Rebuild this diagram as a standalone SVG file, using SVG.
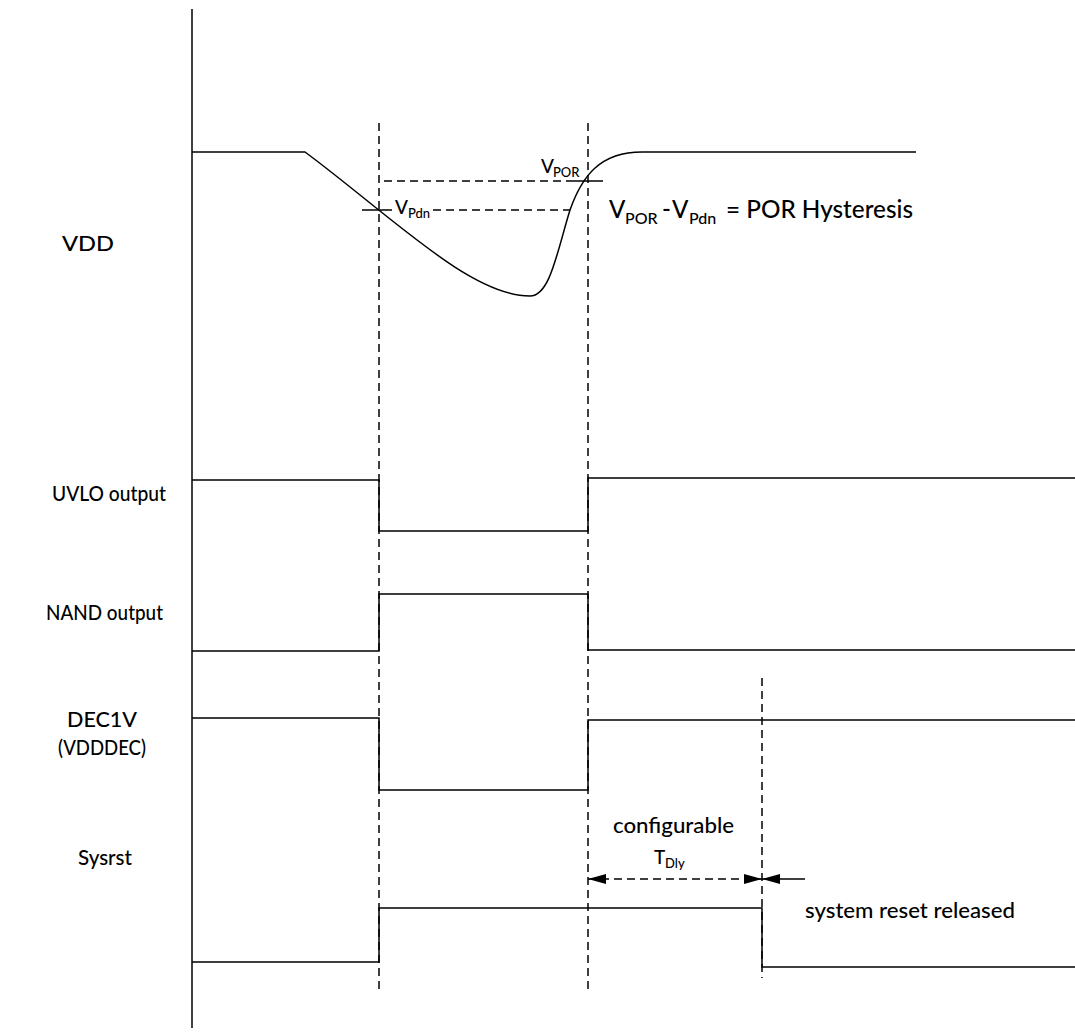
<svg xmlns="http://www.w3.org/2000/svg" width="1075" height="1032" viewBox="0 0 1075 1032">
<style>
.ln{fill:none;stroke:#000;stroke-width:1.5}
.ds{fill:none;stroke:#000;stroke-width:1.5;stroke-dasharray:8 5}
.t{font-family:Lato,"Open Sans","Liberation Sans",sans-serif;fill:#000;font-size:21px;font-weight:500}
.l{font-size:22px}
.s{font-size:13px}
</style>
<defs>
<marker id="ah" markerUnits="userSpaceOnUse" markerWidth="18" markerHeight="10" refX="18" refY="5" orient="auto-start-reverse" viewBox="0 0 18 10">
<path d="M0,0 L18,5 L0,10 z" fill="#000"/>
</marker>
</defs>
<rect width="1075" height="1032" fill="#fff"/>
<g id="labels">
<text class="t l" x="62" y="251" textLength="52" lengthAdjust="spacingAndGlyphs">VDD</text>
<text class="t l" x="52" y="501" textLength="114" lengthAdjust="spacingAndGlyphs">UVLO output</text>
<text class="t l" x="46" y="620" textLength="117" lengthAdjust="spacingAndGlyphs">NAND output</text>
<text class="t l" x="67" y="727" textLength="70" lengthAdjust="spacingAndGlyphs">DEC1V</text>
<text class="t l" x="58" y="755" textLength="88" lengthAdjust="spacingAndGlyphs">(VDDDEC)</text>
<text class="t l" x="78" y="865" textLength="54" lengthAdjust="spacingAndGlyphs">Sysrst</text>
</g>
<g id="axis">
<line class="ln" x1="192" y1="9" x2="192" y2="1028"/>
</g>
<g id="markers-vertical">
<line class="ds" x1="379" y1="123" x2="379" y2="990"/>
<line class="ds" x1="588" y1="123" x2="588" y2="990"/>
<line class="ds" x1="762" y1="678" x2="762" y2="978"/>
</g>
<g id="vdd">
<path class="ln" d="M192,152 H305 C390,215 470,296 530,296 C550,296 557,252 570,210 C582,176 600,152 642,152 H916"/>
<line class="ds" x1="384" y1="181" x2="568" y2="181"/>
<line class="ln" x1="568" y1="181" x2="603" y2="181"/>
<line class="ln" x1="362" y1="210" x2="392" y2="210"/>
<line class="ds" x1="433" y1="210" x2="570" y2="210"/>
<text class="t" x="541" y="173" style="font-size:19px">V<tspan class="s" x="553" y="177">POR</tspan></text>
<text class="t" x="395" y="214" style="font-size:19px">V<tspan class="s" x="408" y="218">Pdn</tspan></text>
<text class="t" x="609" y="218" style="font-size:24px">V<tspan x="625" y="224" style="font-size:16px">POR</tspan><tspan x="662" y="218">-</tspan><tspan x="672" y="218">V</tspan><tspan x="689" y="224" style="font-size:16px">Pdn</tspan><tspan x="726" y="218" textLength="187" lengthAdjust="spacingAndGlyphs">= POR Hysteresis</tspan></text>
</g>
<g id="uvlo">
<path class="ln" d="M192,480 H379 V531 H588 V478 H1075"/>
</g>
<g id="nand">
<path class="ln" d="M192,651 H379 V594 H588 V650 H1075"/>
</g>
<g id="dec1v">
<path class="ln" d="M192,718 H379 V790 H588 V720 H1075"/>
</g>
<g id="sysrst">
<path class="ln" d="M192,962 H379 V908 H762 V967 H1075"/>
</g>
<g id="connectors">
<line class="ds" x1="588" y1="879" x2="762" y2="879" marker-start="url(#ah)" marker-end="url(#ah)"/>
<line class="ln" x1="805" y1="879" x2="762" y2="879" marker-end="url(#ah)"/>
</g>
<g id="annotations">
<text class="t" x="613" y="833" textLength="121" lengthAdjust="spacingAndGlyphs">configurable</text>
<text class="t" x="654" y="864" style="font-size:19px">T<tspan class="s" x="665" y="868">Dly</tspan></text>
<text class="t" x="805" y="918" textLength="210" lengthAdjust="spacingAndGlyphs">system reset released</text>
</g>
</svg>
